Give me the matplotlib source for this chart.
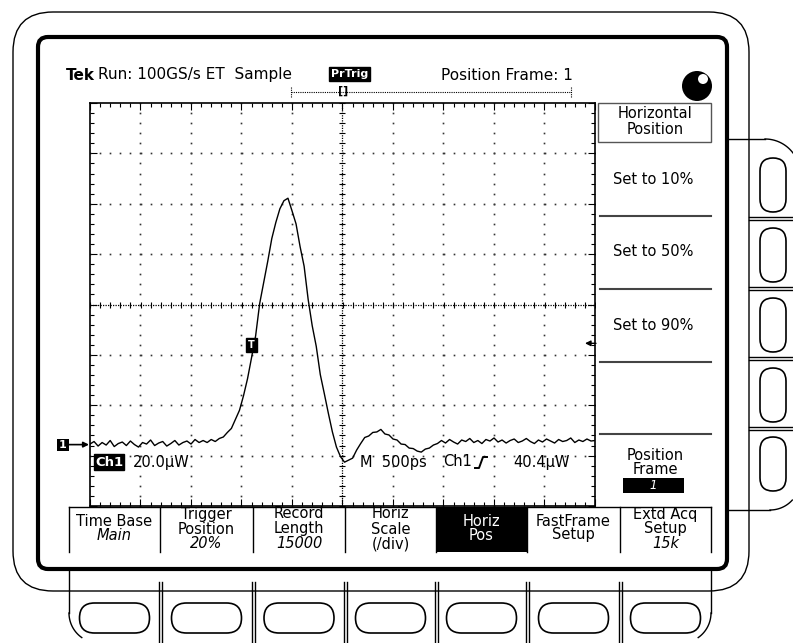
import numpy as np
import matplotlib.pyplot as plt
from matplotlib.patches import FancyBboxPatch, Circle, Rectangle

# waveform, screen divisions, one sample every 0.08 div from -5 to +5
trace = [
    -2.77, -2.72, -2.81, -2.74, -2.79, -2.70, -2.82, -2.76, -2.73, -2.80,
    -2.71, -2.78, -2.83, -2.74, -2.77, -2.69, -2.80, -2.75, -2.72, -2.81,
    -2.76, -2.70, -2.79, -2.74, -2.71, -2.77, -2.68, -2.74,
    -2.70, -2.74, -2.68, -2.72, -2.66, -2.63, -2.54, -2.46, -2.28, -2.10,
    -1.81, -1.47, -1.05, -0.62, 0.02, 0.44, 0.86, 1.31, 1.63, 1.90,
    2.06, 2.11, 1.86, 1.60, 1.15, 0.76, 0.10, -0.42, -0.83, -1.39,
    -1.77, -2.16, -2.53, -2.83, -3.02, -3.13, -3.09, -3.05, -2.89, -2.76,
    -2.64, -2.61, -2.54, -2.53, -2.48, -2.57, -2.59, -2.67, -2.69, -2.77,
    -2.78, -2.85, -2.86, -2.91, -2.93, -2.87, -2.85, -2.79, -2.76,
    -2.70, -2.75, -2.68, -2.73, -2.77, -2.69, -2.72, -2.66, -2.74, -2.70,
    -2.76, -2.68, -2.71, -2.65, -2.73, -2.69, -2.75, -2.70, -2.67, -2.74,
    -2.71, -2.66, -2.72, -2.76, -2.69, -2.73, -2.67, -2.71, -2.75, -2.68,
    -2.72, -2.70, -2.65, -2.74, -2.69, -2.72, -2.67, -2.71, -2.70,
]
t_div = np.linspace(-5, 5, len(trace))

ch1_offset = -2.78   # "1->" ground marker
trig_pos = (-1.8, -0.8)  # T marker
trig_level = -0.77

header = "Run: 100GS/s ET  Sample"
acq_state = "PrTrig"
frame_txt = "Position Frame: 1"
ch_scale = "20.0\u00b5W"
time_scale = "M  500ps"
trig_src = "Ch1"
trig_val = "40.4\u00b5W"

side_title = ["Horizontal", "Position"]
side_items = ["Set to 10%", "Set to 50%", "Set to 90%", ""]
frame_val = "1"

soft_top = ["Time Base", "Trigger\nPosition", "Record\nLength", "Horiz\nScale",
            "Horiz\nPos", "FastFrame\nSetup", "Extd Acq\nSetup"]
soft_val = ["Main", "20%", "15000", "(/div)", "", "", "15k"]
soft_sel = 4

plt.rcParams['font.family'] = ['DejaVu Sans']

fig = plt.figure(figsize=(7.93, 6.43), dpi=100)
bg = fig.add_axes([0, 0, 1, 1])
bg.set_xlim(0, 793)
bg.set_ylim(643, 0)
bg.axis('off')

def rbox(ax, x, y, w, h, r, lw=1.0, fc='none'):
    p = FancyBboxPatch((x, y), w, h, boxstyle="round,pad=0,rounding_size=%g" % r,
                       lw=lw, ec='black', fc=fc)
    ax.add_patch(p)

def arc(ax, cx, cy, r, a0, a1, lw=1.0):
    a = np.radians(np.linspace(a0, a1, 30))
    ax.plot(cx + r * np.cos(a), cy + r * np.sin(a), color='black', lw=lw)

# outer bezel
rbox(bg, 13, 12, 736, 579, 40)
# side button panel
bg.plot([726, 765], [139, 139], color='black', lw=1)
arc(bg, 765, 174, 35, -90, -37)
bg.plot([726, 770], [510, 510], color='black', lw=1)
arc(bg, 770, 480, 30, 90, 42)
for y in [217, 287, 357, 427]:
    bg.plot([749, 793], [y, y], color='black', lw=1)
    bg.plot([749, 793], [y + 3, y + 3], color='black', lw=1)
for y in [158, 228, 298, 368, 437]:
    rbox(bg, 760, y, 26, 54, 13, lw=1.2)
# bottom button panel
bg.plot([69, 69], [570, 613], color='black', lw=1)
arc(bg, 99, 613, 30, 180, 125)
bg.plot([711, 711], [570, 613], color='black', lw=1)
arc(bg, 681, 613, 30, 0, 55)
for x in [160, 253, 345, 436, 527, 620]:
    bg.plot([x - 1.5, x - 1.5], [582, 643], color='black', lw=1)
    bg.plot([x + 1.5, x + 1.5], [582, 643], color='black', lw=1)
cols = [69, 160, 253, 345, 436, 527, 620, 711]
for i in range(7):
    cx = (cols[i] + cols[i + 1]) / 2
    rbox(bg, cx - 35, 603, 70, 30, 15, lw=1.2)

# screen
rbox(bg, 38, 37, 689, 532, 10, lw=3, fc='white')

# header
bg.text(66, 75, "Tek", fontsize=11, fontweight='bold', va='center')
bg.text(98, 75, header, fontsize=11, va='center')
bg.text(331, 74, acq_state, fontsize=8, fontweight='bold', color='white', va='center',
        bbox=dict(boxstyle='square,pad=0.15', fc='black', ec='black'))
bg.text(441, 75, frame_txt, fontsize=11, va='center')
bg.add_patch(Circle((697, 86), 15, fc='black'))
bg.add_patch(Circle((703, 79), 5, fc='white'))
# record bar
bg.plot([291, 571], [92, 92], color='black', lw=0.8, ls=(0, (1, 1)))
bg.plot([291, 291], [87, 97], color='black', lw=0.8, ls=(0, (1, 1)))
bg.plot([571, 571], [87, 97], color='black', lw=0.8, ls=(0, (1, 1)))
bg.text(343, 91, "[]", fontsize=8, fontweight='bold', ha='center', va='center')

# side menu
bg.add_patch(Rectangle((598, 103), 113, 39, fc='white', ec='#555555', lw=1))
bg.text(655, 114, side_title[0], fontsize=10.5, ha='center', va='center')
bg.text(655, 129, side_title[1], fontsize=10.5, ha='center', va='center')
for k, (lab, ysep) in enumerate(zip(side_items, [216, 289, 362, 434])):
    bg.text(613, ysep - 37, lab, fontsize=10.5, va='center')
    bg.plot([600, 711], [ysep, ysep], color='#444444', lw=1.5)
bg.text(655, 455, "Position", fontsize=10.5, ha='center', va='center')
bg.text(655, 470, "Frame", fontsize=10.5, ha='center', va='center')
bg.add_patch(Rectangle((623, 478), 61, 15, fc='black'))
bg.text(653, 485.5, frame_val, fontsize=8.5, style='italic', color='white',
        ha='center', va='center')

# softkey menu
bg.plot([69, 711], [507, 507], color='black', lw=1)
for x in cols:
    bg.plot([x, x], [507, 552], color='black', lw=1)
bg.add_patch(Rectangle((cols[soft_sel], 508), cols[soft_sel + 1] - cols[soft_sel], 44, fc='black'))
for i in range(7):
    cx = (cols[i] + cols[i + 1]) / 2
    col = 'white' if i == soft_sel else 'black'
    lines = soft_top[i].split("\n")
    if soft_val[i]:
        lines = lines + [soft_val[i]]
    ys = [514, 529, 544] if len(lines) == 3 else [521, 535]
    for j, ln in enumerate(lines):
        it = (soft_val[i] and j == len(lines) - 1 and ln != "(/div)")
        bg.text(cx, ys[j], ln, fontsize=10.5, ha='center', va='center', color=col,
                style='italic' if it else 'normal')

# graticule
ax = fig.add_axes([90 / 793, (643 - 506) / 643, 505 / 793, 403 / 643])
ax.set_zorder(2)
ax.set_xlim(-5, 5)
ax.set_ylim(-4, 4)
ax.set_xticks(np.arange(-5, 6, 1))
ax.set_yticks(np.arange(-4, 5, 1))
ax.set_xticks(np.arange(-5, 5.01, 0.2), minor=True)
ax.set_yticks(np.arange(-4, 4.01, 0.2), minor=True)
ax.tick_params(which='both', direction='in', top=True, right=True, width=0.8,
               labelbottom=False, labelleft=False)
ax.tick_params(which='major', length=5)
ax.tick_params(which='minor', length=3)
for s in ax.spines.values():
    s.set_linewidth(1.2)

fine_x = np.arange(-5, 5.01, 0.2)
fine_y = np.arange(-4, 4.01, 0.2)
for gx in range(-4, 5):
    if gx != 0:
        ax.plot(np.full(fine_y.size, gx), fine_y, ls='none', marker='s', ms=1.2,
                mec='none', color='#333333')
for gy in range(-3, 4):
    if gy != 0:
        ax.plot(fine_x, np.full(fine_x.size, gy), ls='none', marker='s', ms=1.2,
                mec='none', color='#333333')
ax.plot([-5, 5], [0, 0], color='black', lw=0.9, ls=(0, (1, 1)))
ax.plot([0, 0], [-4, 4], color='black', lw=0.9, ls=(0, (1, 1)))
ax.plot(fine_x, np.zeros(fine_x.size), ls='none', marker='|', ms=5, mew=0.8, color='black')
ax.plot(np.zeros(fine_y.size), fine_y, ls='none', marker='_', ms=5, mew=0.8, color='black')

ax.plot(t_div, trace, color='black', lw=1.0)

# overlay labels
ov = fig.add_axes([0, 0, 1, 1])
ov.set_zorder(3)
ov.patch.set_alpha(0)
ov.set_xlim(0, 793)
ov.set_ylim(643, 0)
ov.axis('off')

def px(xd, yd):
    return 342.5 + xd * 50.5, 304.5 - yd * 50.4

gx0, gy0 = px(-5, ch1_offset)
ov.add_patch(Rectangle((gx0 - 33, gy0 - 6), 12, 12, fc='black'))
ov.text(gx0 - 27, gy0, "1", color='white', fontsize=8, fontweight='bold', ha='center', va='center')
ov.annotate('', xy=(gx0 - 1, gy0), xytext=(gx0 - 21, gy0),
            arrowprops=dict(arrowstyle='-|>', lw=1.2, color='black', mutation_scale=8,
                            shrinkA=0, shrinkB=0))
tx, ty = px(*trig_pos)
ov.text(tx, ty, "T", color='white', fontsize=7, fontweight='bold', ha='center', va='center',
        bbox=dict(boxstyle='square,pad=0.2', fc='black', ec='black'))
lx, ly = px(5, trig_level)
ov.annotate('', xy=(lx - 10, ly), xytext=(lx + 1, ly),
            arrowprops=dict(arrowstyle='-|>', lw=1.0, color='black', mutation_scale=8,
                            shrinkA=0, shrinkB=0))

ov.text(95, 462, "Ch1", color='white', fontsize=9.5, fontweight='bold', va='center',
        bbox=dict(boxstyle='square,pad=0.1', fc='black', ec='black'))
ov.text(133, 462, ch_scale, fontsize=10.5, va='center')
ov.text(360, 462, time_scale, fontsize=10.5, va='center')
ov.text(443, 462, trig_src, fontsize=10.5, va='center')
ov.plot([475, 479, 483, 487], [468, 468, 457, 457], color='black', lw=1.4)
ov.text(513, 462, trig_val, fontsize=10.5, va='center')

fig.savefig("out.png", dpi=100)
